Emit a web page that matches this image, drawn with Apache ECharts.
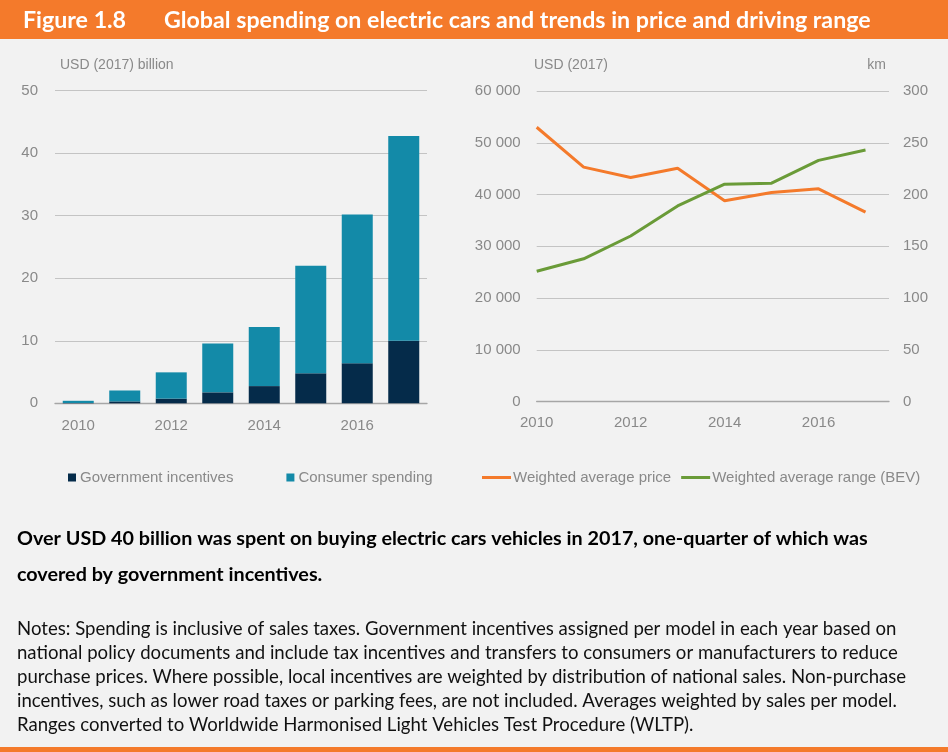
<!DOCTYPE html>
<html>
<head>
<meta charset="utf-8">
<script src="https://cdn.jsdelivr.net/npm/echarts@6/dist/echarts.min.js"></script>
<style>
  html, body { margin: 0; padding: 0; background: #f2f2f2; }
  #chart { width: 948px; height: 752px; }
</style>
</head>
<body>
<div id="chart"></div>
<script>
// Years shown on both panels
const years = ['2010', '2011', '2012', '2013', '2014', '2015', '2016', '2017'];

// Left panel: spending, USD (2017) billion
const govIncentives    = [0.05, 0.3, 0.75, 1.75, 2.75, 4.8, 6.4, 10.0];
const consumerSpending = [0.35, 1.75, 4.2, 7.8, 9.45, 17.2, 23.8, 32.75];

// Right panel: weighted averages
const avgPriceUsd = [53000, 45300, 43300, 45100, 38800, 40400, 41100, 36600];
const avgRangeKm  = [126, 138, 160, 189, 210, 211, 233, 243];

// Tick labels
const spendingTicks = ['0', '10', '20', '30', '40', '50'];
const priceTicks    = ['0', '10 000', '20 000', '30 000', '40 000', '50 000', '60 000'];
const rangeTicks    = ['0', '50', '100', '150', '200', '250', '300'];
const yearTicks     = ['2010', '2012', '2014', '2016'];

// Text
const figureNo   = 'Figure 1.8';
const figureTitle = 'Global spending on electric cars and trends in price and driving range';
const keyMessage = [
  'Over USD 40 billion was spent on buying electric cars vehicles in 2017, one-quarter of which was',
  'covered by government incentives.'
];
const notes = [
  'Notes: Spending is inclusive of sales taxes. Government incentives assigned per model in each year based on',
  'national policy documents and include tax incentives and transfers to consumers or manufacturers to reduce',
  'purchase prices. Where possible, local incentives are weighted by distribution of national sales. Non-purchase',
  'incentives, such as lower road taxes or parking fees, are not included. Averages weighted by sales per model.',
  'Ranges converted to Worldwide Harmonised Light Vehicles Test Procedure (WLTP).'
];

const ORANGE = '#f47a2b';
const GREEN = '#6a9b38';
const NAVY = '#052b4a';
const TEAL = '#138aa8';
const AXIS_TEXT = '#898989';
const SANS = '"Liberation Sans", Arial, sans-serif';
const BODY = 'Lato, "Open Sans", sans-serif';

// Pick a font size so a line of text spans the given width
const measureCtx = document.createElement('canvas').getContext('2d');
function fitSize(text, weight, family, width) {
  measureCtx.font = weight + ' 20px ' + family;
  return 20 * width / measureCtx.measureText(text).width;
}
const titleSize = fitSize(figureTitle, 'bold', BODY, 707);
const keySize = fitSize(keyMessage[0], 'bold', BODY, 851);
const noteSize = fitSize(notes[0], 'normal', BODY, 880);

const chart = echarts.init(document.getElementById('chart'));

const axisLabelStyle = { color: AXIS_TEXT, fontSize: 15, fontFamily: SANS };
const gridLine = { show: true, lineStyle: { color: '#c4c4c4', width: 1 } };
const baseLine = { show: true, lineStyle: { color: '#a6a6a6', width: 1.3 } };

const graphics = [
  { type: 'rect', shape: { x: 0, y: 0, width: 948, height: 39 }, style: { fill: ORANGE }, silent: true },
  { type: 'rect', shape: { x: 0, y: 747, width: 948, height: 5 }, style: { fill: ORANGE }, silent: true },
  { type: 'text', x: 23, y: 21, style: { text: figureNo, fill: '#fff', font: 'bold ' + titleSize + 'px ' + BODY, verticalAlign: 'middle' } },
  { type: 'text', x: 164, y: 21, style: { text: figureTitle, fill: '#fff', font: 'bold ' + titleSize + 'px ' + BODY, verticalAlign: 'middle' } },
  { type: 'text', x: 60, y: 65, style: { text: 'USD (2017) billion', fill: AXIS_TEXT, font: '14px ' + SANS, verticalAlign: 'middle' } },
  { type: 'text', x: 534, y: 65, style: { text: 'USD (2017)', fill: AXIS_TEXT, font: '14px ' + SANS, verticalAlign: 'middle' } },
  { type: 'text', x: 886, y: 65, style: { text: 'km', fill: AXIS_TEXT, font: '14px ' + SANS, verticalAlign: 'middle', align: 'right' } }
];
keyMessage.forEach((line, i) => {
  graphics.push({ type: 'text', x: 17, y: 539 + i * 36,
    style: { text: line, fill: '#000', font: 'bold ' + keySize + 'px ' + BODY, verticalAlign: 'middle' } });
});
notes.forEach((line, i) => {
  graphics.push({ type: 'text', x: 17, y: 629 + i * 24,
    style: { text: line, fill: '#111', font: noteSize + 'px ' + BODY, verticalAlign: 'middle' } });
});

const option = {
  backgroundColor: '#f2f2f2',
  animation: false,
  graphic: graphics,
  legend: [
    {
      data: ['Government incentives', 'Consumer spending'],
      left: 68, top: 470, padding: 0,
      icon: 'rect', itemWidth: 8, itemHeight: 8, itemGap: 53,
      textStyle: { color: AXIS_TEXT, fontSize: 15, fontFamily: SANS, padding: [0, 0, 0, -1] }
    },
    {
      data: ['Weighted average price', 'Weighted average range (BEV)'],
      left: 482, top: 470, padding: 0,
      icon: 'rect', itemWidth: 29, itemHeight: 3, itemGap: 10,
      textStyle: { color: AXIS_TEXT, fontSize: 15, fontFamily: SANS, padding: [0, 0, 0, -3] }
    }
  ],
  grid: [
    { left: 55, top: 90.7, width: 372, height: 312.6 },
    { left: 536.7, top: 91, width: 352.3, height: 310.7 }
  ],
  xAxis: [
    {
      type: 'category', gridIndex: 0, data: years,
      axisTick: { show: false }, axisLine: baseLine,
      axisLabel: Object.assign({ interval: 1, margin: 15 }, axisLabelStyle)
    },
    {
      type: 'value', gridIndex: 1, min: 2010, max: 2017.5, interval: 2,
      axisTick: { show: false }, axisLine: baseLine, splitLine: { show: false },
      axisLabel: Object.assign({
        margin: 14, showMaxLabel: false,
        formatter: v => yearTicks.includes(String(v)) ? String(v) : ''
      }, axisLabelStyle)
    }
  ],
  yAxis: [
    {
      type: 'value', gridIndex: 0, min: 0, max: 50, interval: 10,
      splitLine: gridLine, axisLine: { show: false }, axisTick: { show: false },
      axisLabel: Object.assign({ margin: 17, formatter: v => spendingTicks[Math.round(v / 10)] }, axisLabelStyle)
    },
    {
      type: 'value', gridIndex: 1, min: 0, max: 60000, interval: 10000,
      splitLine: gridLine, axisLine: { show: false }, axisTick: { show: false },
      axisLabel: Object.assign({ margin: 16, formatter: v => priceTicks[Math.round(v / 10000)] }, axisLabelStyle)
    },
    {
      type: 'value', gridIndex: 1, position: 'right', min: 0, max: 300, interval: 50,
      splitLine: { show: false }, axisLine: { show: false }, axisTick: { show: false },
      axisLabel: Object.assign({ margin: 14, formatter: v => rangeTicks[Math.round(v / 50)] }, axisLabelStyle)
    }
  ],
  series: [
    {
      name: 'Government incentives', type: 'bar', stack: 'spend',
      xAxisIndex: 0, yAxisIndex: 0, barWidth: 31,
      itemStyle: { color: NAVY }, data: govIncentives
    },
    {
      name: 'Consumer spending', type: 'bar', stack: 'spend',
      xAxisIndex: 0, yAxisIndex: 0, barWidth: 31,
      itemStyle: { color: TEAL }, data: consumerSpending
    },
    {
      name: 'Weighted average price', type: 'line',
      xAxisIndex: 1, yAxisIndex: 1, symbol: 'none',
      lineStyle: { color: ORANGE, width: 3 }, itemStyle: { color: ORANGE },
      data: years.map((y, i) => [Number(y), avgPriceUsd[i]])
    },
    {
      name: 'Weighted average range (BEV)', type: 'line',
      xAxisIndex: 1, yAxisIndex: 2, symbol: 'none',
      lineStyle: { color: GREEN, width: 3 }, itemStyle: { color: GREEN },
      data: years.map((y, i) => [Number(y), avgRangeKm[i]])
    }
  ]
};

chart.setOption(option);
</script>
</body>
</html>
